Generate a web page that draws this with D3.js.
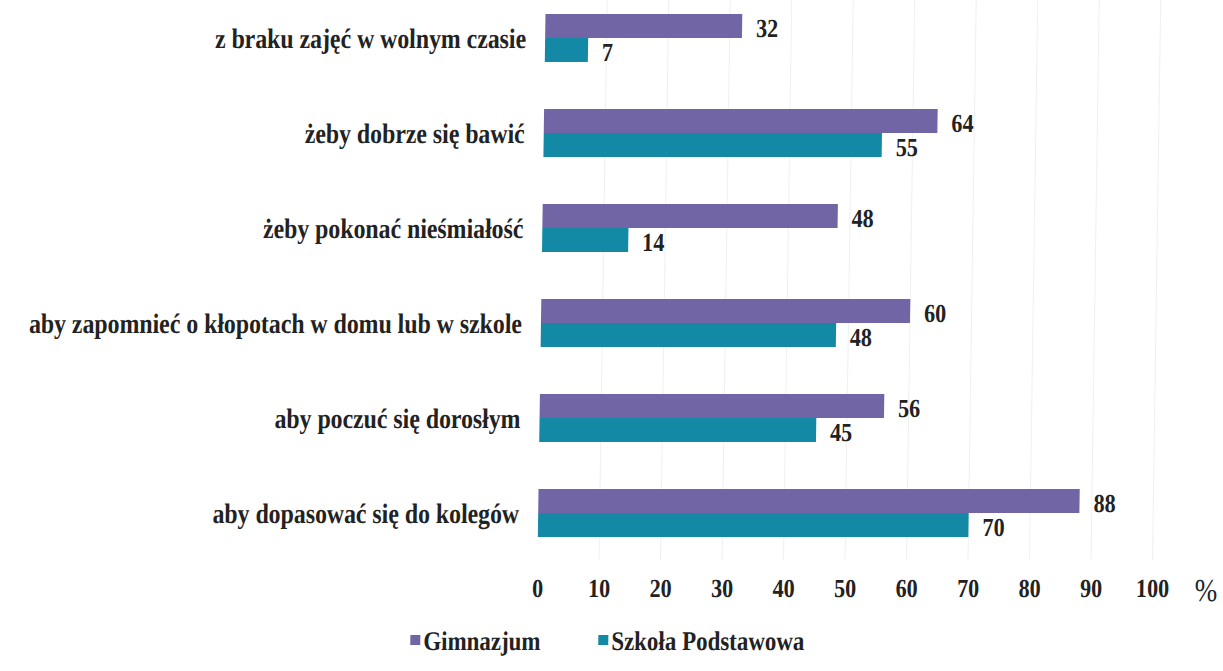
<!DOCTYPE html>
<html>
<head>
<meta charset="utf-8">
<script src="https://cdn.jsdelivr.net/npm/d3@7"></script>
<style>
  body { margin: 0; background: #fff; }
  text { font-family: "Liberation Serif", "Times New Roman", serif; font-weight: bold; fill: #222; }
</style>
</head>
<body>
<svg id="chart" width="1223" height="671"></svg>
<script>
// categories, top to bottom
const categories = [
  'z braku zajęć w wolnym czasie',
  'żeby dobrze się bawić',
  'żeby pokonać nieśmiałość',
  'aby zapomnieć o kłopotach w domu lub w szkole',
  'aby poczuć się dorosłym',
  'aby dopasować się do kolegów'
];
const seriesNames = ['Gimnazjum', 'Szkoła Podstawowa'];
const gimnazjum = [32, 64, 48, 60, 56, 88];
const podstawowa = [7, 55, 14, 48, 45, 70];
const tickValues = [0, 10, 20, 30, 40, 50, 60, 70, 80, 90, 100];

const colors = ['#7265a6', '#1489a5'];

// the scan's type is tall and narrow, squeeze glyphs horizontally
const squeeze = 0.85;

// the scanned original leans a little, so the whole chart gets a slight skew
const svg = d3.select('#chart')
  .append('g')
  .attr('transform', 'translate(0, 525) skewX(-0.84) translate(0, -525)');

const x = d3.scaleLinear()
  .domain([0, 100])
  .range([538, 1153]);

const y = d3.scaleBand()
  .domain(categories)
  .range([-9.5, 560.5])
  .paddingInner(0.495)
  .paddingOuter(0.2475);

const ySeries = d3.scaleBand()
  .domain(seriesNames)
  .range([0, y.bandwidth()]);

// faint gridlines
svg.append('g')
  .selectAll('line')
  .data(tickValues.slice(1))
  .join('line')
  .attr('x1', d => x(d))
  .attr('x2', d => x(d))
  .attr('y1', 0)
  .attr('y2', 560)
  .attr('stroke', '#f0f0f0')
  .attr('stroke-width', 1);

const rows = categories.map((c, i) => ({
  cat: c,
  values: [
    {name: seriesNames[0], value: gimnazjum[i]},
    {name: seriesNames[1], value: podstawowa[i]}
  ]
}));

const group = svg.append('g')
  .selectAll('g')
  .data(rows)
  .join('g')
  .attr('transform', d => `translate(0, ${y(d.cat)})`);

group.selectAll('rect')
  .data(d => d.values)
  .join('rect')
  .attr('x', x(0))
  .attr('y', d => ySeries(d.name))
  .attr('width', d => x(d.value) - x(0))
  .attr('height', ySeries.bandwidth())
  .attr('fill', (d, i) => colors[i]);

group.selectAll('text.val')
  .data(d => d.values)
  .join('text')
  .attr('class', 'val')
  .attr('transform', d => `translate(${x(d.value) + 14}, ${ySeries(d.name) + ySeries.bandwidth() / 2 + 2}) scale(${squeeze}, 1)`)
  .attr('dy', '0.35em')
  .style('font-size', '26px')
  .text(d => d.value);

// category labels
svg.append('g')
  .selectAll('text')
  .data(categories)
  .join('text')
  .attr('transform', d => `translate(${x(0) - 19}, ${y(d) + y.bandwidth() / 2}) scale(${squeeze}, 1)`)
  .attr('dy', '0.35em')
  .attr('text-anchor', 'end')
  .style('font-size', '28px')
  .text(d => d);

// x axis, labels only
const xAxis = d3.axisBottom(x)
  .tickValues(tickValues)
  .tickSize(0)
  .tickPadding(0);

const axisX = svg.append('g')
  .attr('transform', 'translate(0, 588)')
  .call(xAxis);
axisX.select('.domain').remove();
axisX.selectAll('text')
  .attr('y', 0)
  .attr('dy', '0.35em')
  .attr('transform', `scale(${squeeze}, 1)`)
  .style('font-size', '26px')
  .style('font-family', '"Liberation Serif", serif')
  .attr('fill', '#222');

svg.append('text')
  .attr('transform', `translate(1207, 590) scale(${squeeze}, 1)`)
  .attr('dy', '0.35em')
  .attr('text-anchor', 'middle')
  .style('font-size', '32px')
  .style('font-weight', 'normal')
  .text('%');

// legend
const legendX = [412, 600];
const legend = svg.append('g')
  .selectAll('g')
  .data(seriesNames)
  .join('g')
  .attr('transform', (d, i) => `translate(${legendX[i]}, 640)`);

legend.append('rect')
  .attr('x', 0)
  .attr('y', -5)
  .attr('width', 10)
  .attr('height', 10)
  .attr('fill', (d, i) => colors[i]);

legend.append('text')
  .attr('transform', `translate(13, 1) scale(${squeeze}, 1)`)
  .attr('dy', '0.35em')
  .style('font-size', '27px')
  .text(d => d);
</script>
</body>
</html>
